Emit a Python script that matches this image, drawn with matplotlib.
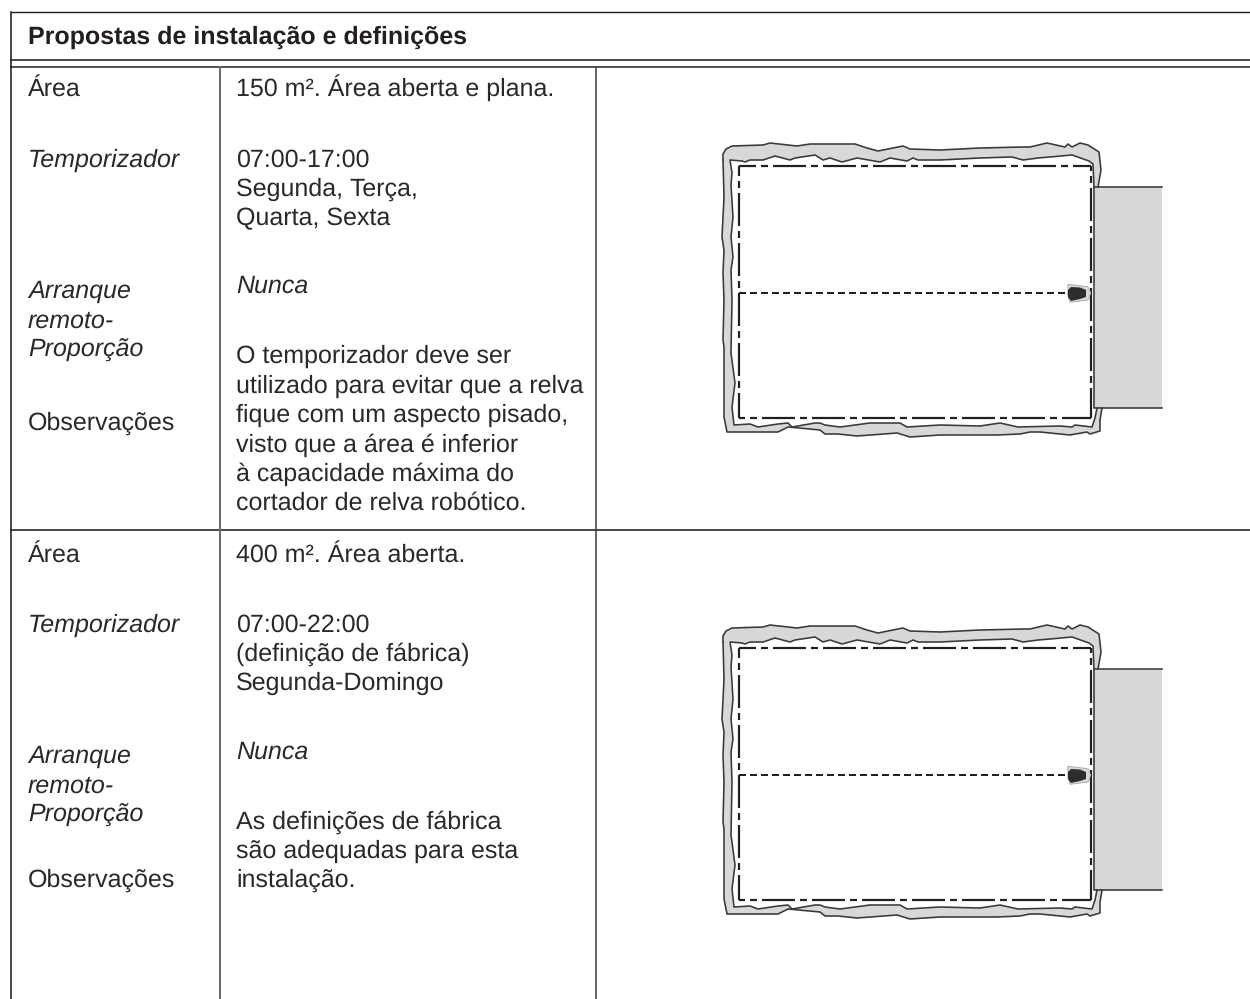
import numpy as np
import matplotlib
matplotlib.use('Agg')
import matplotlib.pyplot as plt

## Data, everything in image pixels of the first lawn
title = 'Propostas de instalação e definições'

labels_a = [('Área', 96, False), ('Temporizador', 167, True), ('Arranque', 298, True),
            ('remoto-', 328, True), ('Proporção', 357, True), ('Observações', 430, False)]
values_a = [('150 m². Área aberta e plana.', 96, False), ('07:00-17:00', 167, False),
            ('Segunda, Terça,', 196, False), ('Quarta, Sexta', 225, False), ('Nunca', 293, True),
            ('O temporizador deve ser', 363, False), ('utilizado para evitar que a relva', 393, False),
            ('fique com um aspecto pisado,', 422, False), ('visto que a área é inferior', 452, False),
            ('à capacidade máxima do', 481, False), ('cortador de relva robótico.', 510, False)]
labels_b = [('Área', 562, False), ('Temporizador', 632, True), ('Arranque', 763, True),
            ('remoto-', 793, True), ('Proporção', 822, True), ('Observações', 887, False)]
values_b = [('400 m². Área aberta.', 562, False), ('07:00-22:00', 632, False),
            ('(definição de fábrica)', 661, False), ('Segunda-Domingo', 690, False), ('Nunca', 759, True),
            ('As definições de fábrica', 829, False), ('são adequadas para esta', 858, False),
            ('instalação.', 887, False)]

outer_top = [(723, 160), (723, 154), (726, 149), (732, 146), (763, 145), (770, 143), (797, 146), (810, 144),
             (855, 144), (867, 148), (878, 151), (903, 146), (910, 149), (940, 150), (980, 148), (1023, 147),
             (1030, 147), (1047, 143), (1065, 147), (1068, 144), (1072, 147), (1080, 143), (1088, 145),
             (1099, 152), (1101, 170), (1098, 187)]
inner_top = [(1094, 187), (1093, 164), (1089, 161), (1072, 155), (1050, 157), (1038, 158), (1023, 160), (1012, 157),
             (980, 158), (940, 160), (918, 160), (913, 158), (907, 161), (890, 158), (880, 162), (857, 158),
             (842, 162), (830, 158), (823, 160), (815, 155), (795, 158), (790, 160), (775, 156), (763, 160),
             (750, 160), (745, 162), (742, 161), (730, 160)]
inner_left = [(730, 160), (732, 173), (731, 185), (733, 217), (731, 237), (733, 257), (731, 270), (732, 300),
              (731, 353), (735, 383), (732, 407), (734, 425)]
inner_bottom = [(734, 425), (750, 424), (758, 427), (778, 424), (788, 423), (792, 427), (815, 423), (820, 423),
                (825, 425), (840, 427), (870, 423), (900, 423), (907, 427), (940, 425), (980, 426), (1000, 423),
                (1018, 427), (1060, 426), (1072, 427), (1075, 425), (1092, 427), (1095, 418), (1097, 408)]
outer_bottom = [(1102, 408), (1100, 420), (1100, 431), (1090, 434), (1087, 432), (1070, 435), (1060, 434),
                (1040, 432), (1030, 432), (1020, 434), (997, 435), (980, 435), (940, 435), (910, 437), (897, 433),
                (857, 436), (838, 434), (825, 434), (820, 430), (788, 427), (778, 432), (757, 432), (727, 432)]
outer_left = [(727, 432), (724, 417), (724, 347), (723, 340), (724, 300), (723, 273), (724, 250), (722, 237),
              (724, 197), (723, 160)]
mower_body = [(1068, 290), (1071, 287), (1080, 287.5), (1086, 290), (1086, 297), (1080, 299), (1071, 301), (1068, 297)]
mower_shell = [(1068, 284.3), (1088, 286.7), (1090.7, 293), (1088, 300), (1070, 302.3), (1067.7, 295)]

lawn_offsets = [0, 482]

plt.rcParams['font.family'] = ['Liberation Sans', 'DejaVu Sans']
plt.rcParams['lines.scale_dashes'] = False
plt.rcParams['text.hinting'] = 'none'
plt.rcParams['text.hinting_factor'] = 1

ink = '#231f20'
grey = '#d7d8da'
px = 72 / 100   # one pixel in points at dpi 100


def draw_text(ax, rows, x, size):
    for text, y, italic in rows:
        ax.text(x, y, text, fontsize=size, color='#2b2829', va='baseline', ha='left',
                style='italic' if italic else 'normal')


def draw_lawn(ax, dy):
    shift = lambda pts: (np.array(pts)[:, 0], np.array(pts)[:, 1] + dy)
    # Grey strip of the garden edge and the grey paved area on the right
    ring = outer_top + inner_top + inner_left + inner_bottom + outer_bottom + outer_left
    ax.fill(*shift(ring), color=grey, lw=0, zorder=1)
    for part in [outer_top, inner_top + inner_left + inner_bottom, outer_bottom + outer_left]:
        ax.plot(*shift(part), color='#3a3839', lw=1.6 * px, zorder=2)
    ax.fill(*shift([(1094, 187), (1162, 187), (1162, 408), (1094, 408)]), color=grey, lw=0, zorder=1)
    ax.plot(*shift([(1162, 187), (1094, 187), (1094, 408), (1162, 408)]), color='#3a3839', lw=1.6 * px, zorder=2)
    # Boundary wire, dash-dot loop
    dash = (33 * px, 5 * px, 7 * px, 5 * px)
    ax.plot([738.7, 1090.7], [166 + dy, 166 + dy], color=ink, lw=2.2 * px, zorder=3,
            linestyle=(16 * px, dash))
    ax.plot([738.7, 738.7], [166 + dy, 418 + dy], color=ink, lw=2.2 * px, zorder=3,
            linestyle=(23 * px, dash))
    ax.plot([738.7, 1090.7], [418 + dy, 418 + dy], color=ink, lw=2.2 * px, zorder=3,
            linestyle=(27 * px, dash))
    ax.plot([1090.7, 1090.7], [166 + dy, 418 + dy], color=ink, lw=2.2 * px, zorder=3,
            linestyle=(28 * px, dash))
    # Guide wire to the charging station
    ax.plot([739, 1068], [293.3 + dy, 293.3 + dy], color=ink, lw=2 * px, zorder=3,
            linestyle=(0, (7 * px, 4 * px)))
    ax.fill(*shift(mower_shell), facecolor='#d8d8d8', edgecolor='#b0b0b0', lw=1 * px, zorder=4)
    ax.fill(*shift(mower_body), color='#2e2c2d', lw=0, zorder=5)


fig = plt.figure(figsize=(12.5, 9.99), dpi=100)
ax = fig.add_axes([0, 0, 1, 1])
ax.set_xlim(0, 1250)
ax.set_ylim(999, 0)
ax.axis('off')

# Table rules
ax.plot([10.5, 1250], [11.5, 11.5], color=ink, lw=1.4 * px)
ax.plot([10.5, 1250], [60, 60], color=ink, lw=1.6 * px)
ax.plot([10.5, 1250], [66.5, 66.5], color='#555555', lw=2 * px)
ax.plot([10.5, 1250], [529.5, 529.5], color=ink, lw=1.6 * px)
ax.plot([10.5, 10.5], [11.5, 999], color=ink, lw=1.6 * px)
ax.plot([220, 220], [66.5, 999], color='#6b6b6b', lw=2 * px)
ax.plot([595.5, 595.5], [66.5, 999], color='#444444', lw=1.6 * px)

ax.text(28, 43.5, title, fontsize=18, fontweight='bold', color=ink, va='baseline', ha='left')
draw_text(ax, labels_a, 28, 18)
draw_text(ax, labels_b, 28, 18)
draw_text(ax, values_a, 236, 17.7)
draw_text(ax, values_b, 236, 17.7)

for dy in lawn_offsets:
    draw_lawn(ax, dy)

fig.savefig('out.png', dpi=100)
